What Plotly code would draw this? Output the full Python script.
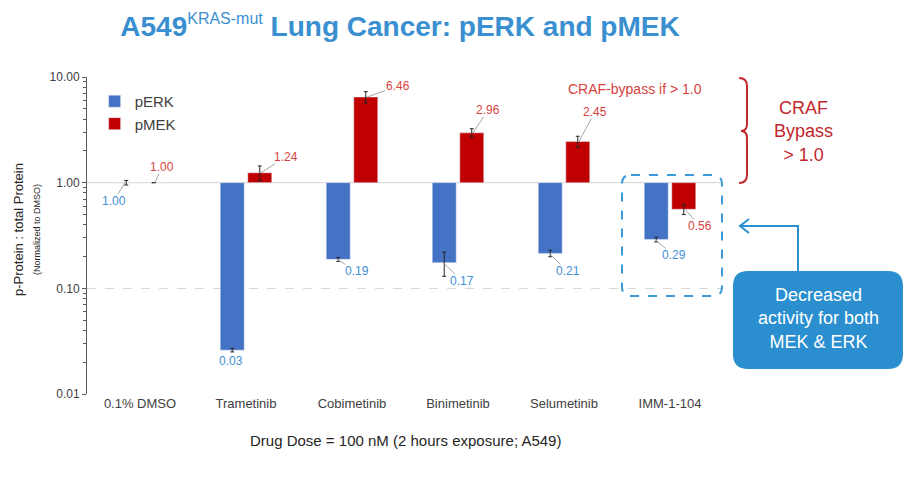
import numpy as np
import plotly.graph_objects as go

# data
drugs = ["0.1% DMSO", "Trametinib", "Cobimetinib", "Binimetinib", "Selumetinib", "IMM-1-104"]
perk = [1.00, 0.026, 0.188, 0.175, 0.214, 0.29]
pmek = [1.00, 1.24, 6.46, 2.96, 2.45, 0.56]
perk_err = [0.05, 0.001, 0.008, 0.045, 0.015, 0.015]
pmek_err = [None, 0.2, 0.8, 0.28, 0.3, 0.06]
perk_text = ["1.00", "0.03", "0.19", "0.17", "0.21", "0.29"]
pmek_text = ["1.00", "1.24", "6.46", "2.96", "2.45", "0.56"]

# label offsets (pixels, y down) from the bar end
perk_off = [(-11, 18), (0, 11), (20, 12), (19, 18), (19, 18), (19, 16)]
pmek_off = [(7, -16), (25, -16), (31, -11), (15, -23), (16, -30), (15, 17)]

BLUE = "#4472c4"
RED = "#c00000"
LBLUE = "#3f8fd5"
LRED = "#d8433f"
CALLOUT = "#2b8fcf"
FONT = "Arial, Liberation Sans, sans-serif"

# plot area in pixels
L, R, T, B = 87, 723, 77, 394
W, H = R - L, B - T
YMIN, YMAX = -2, 1


def px(x):
    return (x - L) / W


def py(y):
    return (B - y) / H


def pt(x, y):
    return "%.4f,%.4f" % (px(x), py(y))


def rounded(x0, y0, x1, y1, r):
    return ("M " + pt(x0 + r, y0) + " L " + pt(x1 - r, y0) + " Q " + pt(x1, y0) + " " + pt(x1, y0 + r) +
            " L " + pt(x1, y1 - r) + " Q " + pt(x1, y1) + " " + pt(x1 - r, y1) +
            " L " + pt(x0 + r, y1) + " Q " + pt(x0, y1) + " " + pt(x0, y1 - r) +
            " L " + pt(x0, y0 + r) + " Q " + pt(x0, y0) + " " + pt(x0 + r, y0) + " Z")


fig = go.Figure()
fig.add_trace(go.Bar(
    name="pERK", x=drugs, y=[v - 1 for v in perk], base=1, marker_color=BLUE,
    error_y=dict(type="data", array=perk_err, color="#262626", thickness=1, width=2),
))
fig.add_trace(go.Bar(
    name="pMEK", x=drugs, y=[v - 1 for v in pmek], base=1, marker_color=RED,
    error_y=dict(type="data", array=pmek_err, color="#262626", thickness=1, width=2),
))

# value labels + grey leader lines, placed through the axis mapping (category slots, log scale)
n = len(drugs)
anns = []
shapes = []
for i in range(n):
    for vals, txt, offs, col, dx in [(perk, perk_text, perk_off, LBLUE, -15),
                                     (pmek, pmek_text, pmek_off, LRED, 15)]:
        x0 = (i + 0.5) / n + dx / W
        y0 = float((np.log10(vals[i]) - YMIN) / (YMAX - YMIN))
        ox, oy = offs[i]
        anns.append(dict(
            x=x0, y=y0, xref="paper", yref="paper", text=txt[i], showarrow=False,
            xanchor="center", yanchor="middle", xshift=ox, yshift=-oy,
            font=dict(family=FONT, size=12, color=col),
        ))
        if ox != 0 and oy != 0:
            t = max(1 - 13 / abs(ox), 1 - 7 / abs(oy))
            shapes.append(dict(
                type="line", xref="paper", yref="paper",
                x0=x0, y0=y0, x1=x0 + t * ox / W, y1=y0 - t * oy / H,
                line=dict(color="#a6a6a6", width=1),
            ))

# other texts
extra = [
    dict(x=px(26), y=py(229), textangle=-90,
         text="p-Protein : total Protein<br><span style='font-size:9px'>(Normalized to DMSO)</span>",
         font=dict(family=FONT, size=13, color="#262626")),
    dict(x=0.5, y=py(440), text="Drug Dose = 100 nM (2 hours exposure; A549)",
         font=dict(family=FONT, size=15, color="#262626")),
    dict(x=px(635), y=py(89), text="CRAF-bypass if > 1.0",
         font=dict(family=FONT, size=14, color=LRED)),
    dict(x=px(803), y=py(131), text="CRAF<br>Bypass<br>> 1.0",
         font=dict(family=FONT, size=18, color="#c0282d")),
    dict(x=px(818), y=py(318), text="Decreased<br>activity for both<br>MEK & ERK",
         font=dict(family=FONT, size=18, color="white")),
]
for a in extra:
    a.update(xref="paper", yref="paper", showarrow=False, xanchor="center", yanchor="middle")
anns += extra

one = (0 - YMIN) / (YMAX - YMIN)
shapes += [
    dict(type="line", xref="paper", yref="paper", x0=0, x1=1, y0=one, y1=one,
         line=dict(color="#d0d0d0", width=1), layer="below"),
    # dashed box round the IMM-1-104 pair
    dict(type="path", xref="paper", yref="paper", path=rounded(622, 175, 722, 296, 9),
         line=dict(color="#3b9ad9", width=2, dash="dash")),
    # callout box and its elbow arrow
    dict(type="path", xref="paper", yref="paper", path=rounded(733, 271, 903, 369, 15),
         fillcolor=CALLOUT, line=dict(width=0)),
    dict(type="path", xref="paper", yref="paper",
         path="M " + pt(798, 271) + " L " + pt(798, 226) + " L " + pt(741, 226),
         line=dict(color=CALLOUT, width=2)),
    dict(type="path", xref="paper", yref="paper",
         path="M " + pt(749, 219) + " L " + pt(740, 226) + " L " + pt(749, 233),
         line=dict(color=CALLOUT, width=2)),
    # red bracket for the CRAF bypass zone
    dict(type="path", xref="paper", yref="paper",
         path="M " + pt(739, 78) + " Q " + pt(747, 78) + " " + pt(747, 86) + " L " + pt(747, 124) +
              " Q " + pt(747, 131) + " " + pt(741, 131) + " Q " + pt(747, 131) + " " + pt(747, 138) +
              " L " + pt(747, 175) + " Q " + pt(747, 183) + " " + pt(739, 183),
         line=dict(color="#c0282d", width=2)),
]

fig.update_layout(
    width=922, height=483,
    margin=dict(l=L, r=922 - R, t=T, b=483 - B),
    paper_bgcolor="white", plot_bgcolor="white",
    barmode="group", bargap=0.48, bargroupgap=0.13,
    title=dict(text="A549<sup><span style='font-weight:normal;font-size:16px'>KRAS-mut</span></sup>"
                    " Lung Cancer: pERK and pMEK",
               x=400 / 922, xanchor="center", y=1 - 26 / 483, yanchor="middle",
               font=dict(family=FONT, size=28, color="#3a8fd0", weight="bold")),
    legend=dict(x=0.012, y=0.975, xanchor="left", yanchor="top", bgcolor="rgba(0,0,0,0)",
                font=dict(family=FONT, size=15, color="#404040"), itemwidth=30),
    annotations=anns, shapes=shapes,
    font=dict(family=FONT),
)
fig.update_yaxes(
    type="log", range=[YMIN, YMAX], dtick=1, tickformat=".2f",
    showgrid=True, gridcolor="#d9d9d9", griddash="dash",
    showline=True, linecolor="#595959", linewidth=1,
    ticks="outside", ticklen=4, tickcolor="#595959",
    minor=dict(ticks="outside", ticklen=3, tickcolor="#595959", dtick="D1", showgrid=False),
    tickfont=dict(family=FONT, size=12, color="#404040"),
)
fig.update_xaxes(
    showline=False, ticks="", tickfont=dict(family=FONT, size=13, color="#404040"),
)

fig.write_html("out.html", config={"displayModeBar": False},
               post_script="document.body.style.margin='0px';")
